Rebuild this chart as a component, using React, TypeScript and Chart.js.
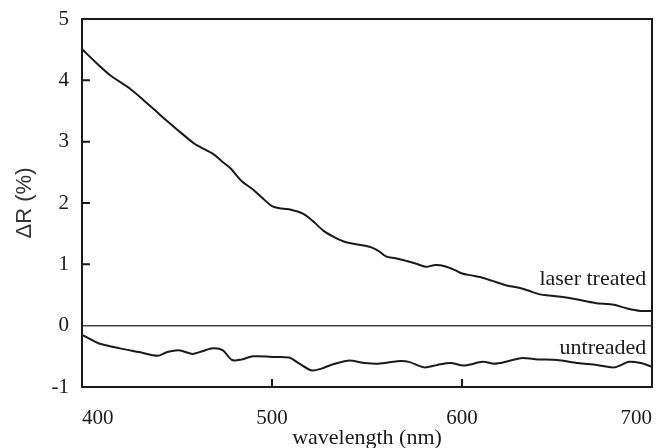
import React, { useEffect, useRef } from "react";
import { Chart, registerables } from "chart.js";

Chart.register(...registerables);

// ---- data ----
const laserWavelength = [
  400, 407, 415, 425, 433, 441, 450, 459, 463, 469, 474, 478, 484, 490, 495, 500,
  505, 510, 516, 521, 527, 533, 539, 546, 552, 556, 560, 565, 570, 576, 581, 586,
  591, 596, 600, 605, 610, 616, 623, 631, 636, 641, 646, 652, 660, 670, 680, 687,
  694, 700,
];
const laserDeltaR = [
  4.51, 4.3, 4.08, 3.87, 3.66, 3.44, 3.2, 2.97, 2.9, 2.8, 2.67, 2.57, 2.36, 2.22, 2.08, 1.95,
  1.91, 1.89, 1.83, 1.72, 1.55, 1.44, 1.36, 1.32, 1.28, 1.22, 1.13, 1.1, 1.06, 1.01, 0.96, 0.99,
  0.97, 0.91, 0.85, 0.82, 0.79, 0.73, 0.66, 0.61, 0.56, 0.51, 0.49, 0.47, 0.43, 0.37, 0.34, 0.28,
  0.24, 0.24,
];

const untreatedWavelength = [
  400, 405, 410, 420, 430, 440, 445, 451, 458, 463, 469, 474, 479, 484, 490, 500,
  509, 514, 521, 526, 531, 540, 549, 556, 566, 572, 580, 587, 594, 601, 611, 617,
  623, 631, 640, 650, 661, 671, 680, 688, 694, 700,
];
const untreatedDeltaR = [
  -0.15, -0.23, -0.3, -0.37, -0.43, -0.49, -0.43, -0.4, -0.46, -0.42, -0.37, -0.4, -0.56, -0.55, -0.5, -0.51,
  -0.52, -0.61, -0.73, -0.7, -0.64, -0.57, -0.61, -0.62, -0.58, -0.59, -0.68, -0.64, -0.61, -0.65, -0.59, -0.62,
  -0.59, -0.53, -0.55, -0.56, -0.61, -0.64, -0.68, -0.59, -0.61, -0.67,
];

const xRange = [400, 700];
const yRange = [-1, 5];
const xStep = 100;
const yStep = 1;

const seriesLabels = ["laser treated", "untreaded"];
// annotation anchors in data units: [wavelength, ΔR]
const labelAnchors = [
  [697, 0.66],
  [697, -0.46],
];
const xTitle = "wavelength (nm)";
const yTitle = "ΔR (%)";

const INK = "#1a1a1a";
const SERIF = "'Liberation Serif', 'Times New Roman', serif";
const SANS = "'Liberation Sans', Arial, sans-serif";

const framePlugin = {
  id: "frameDecor",
  beforeDatasetsDraw(chart: any) {
    const { ctx, chartArea, scales } = chart;
    const y0 = scales.y.getPixelForValue(0);
    ctx.save();
    ctx.strokeStyle = "#444";
    ctx.lineWidth = 1.5;
    ctx.beginPath();
    ctx.moveTo(chartArea.left, y0);
    ctx.lineTo(chartArea.right, y0);
    ctx.stroke();
    ctx.restore();
  },
  afterDatasetsDraw(chart: any) {
    const { ctx, chartArea, scales } = chart;
    const { left, right, top, bottom } = chartArea;
    ctx.save();
    ctx.strokeStyle = INK;
    ctx.lineWidth = 2;
    ctx.strokeRect(left, top, right - left, bottom - top);
    // inward ticks
    const len = 8;
    ctx.beginPath();
    for (const t of scales.x.ticks) {
      if (t.value <= xRange[0] || t.value >= xRange[1]) continue;
      const px = scales.x.getPixelForValue(t.value);
      ctx.moveTo(px, bottom);
      ctx.lineTo(px, bottom - len);
    }
    for (const t of scales.y.ticks) {
      if (t.value <= yRange[0] || t.value >= yRange[1] || t.value === 0) continue;
      const py = scales.y.getPixelForValue(t.value);
      ctx.moveTo(left, py);
      ctx.lineTo(left + len, py);
    }
    ctx.stroke();
    // series labels
    ctx.fillStyle = INK;
    ctx.font = `22px ${SERIF}`;
    ctx.textAlign = "right";
    ctx.textBaseline = "alphabetic";
    seriesLabels.forEach((txt, i) => {
      const [wx, wy] = labelAnchors[i];
      ctx.fillText(txt, scales.x.getPixelForValue(wx), scales.y.getPixelForValue(wy));
    });
    ctx.restore();
  },
};

export default function App() {
  const canvasRef = useRef<HTMLCanvasElement | null>(null);

  useEffect(() => {
    if (!canvasRef.current) return;
    const chart = new Chart(canvasRef.current, {
      type: "line",
      data: {
        datasets: [
          {
            label: seriesLabels[0],
            data: laserWavelength.map((x, i) => ({ x, y: laserDeltaR[i] })),
            borderColor: INK,
            borderWidth: 2,
            pointRadius: 0,
            tension: 0.3,
            fill: false,
          },
          {
            label: seriesLabels[1],
            data: untreatedWavelength.map((x, i) => ({ x, y: untreatedDeltaR[i] })),
            borderColor: INK,
            borderWidth: 2,
            pointRadius: 0,
            tension: 0.3,
            fill: false,
          },
        ],
      },
      options: {
        animation: false,
        responsive: false,
        layout: { padding: { top: 19, right: 8, bottom: 0, left: 0 } },
        plugins: {
          legend: { display: false },
          tooltip: { enabled: false },
        },
        scales: {
          x: {
            type: "linear",
            min: xRange[0],
            max: xRange[1],
            grid: { display: false },
            border: { display: false },
            ticks: {
              stepSize: xStep,
              align: "inner",
              padding: 11,
              color: INK,
              font: { family: SERIF, size: 21 },
              maxRotation: 0,
            },
            title: {
              display: true,
              text: xTitle,
              color: INK,
              font: { family: SERIF, size: 22 },
              padding: { top: 0, bottom: -3 },
            },
            afterFit: (s: any) => {
              s.height = 61;
            },
          },
          y: {
            type: "linear",
            min: yRange[0],
            max: yRange[1],
            grid: { display: false },
            border: { display: false },
            ticks: {
              stepSize: yStep,
              padding: 5,
              color: INK,
              font: { family: SERIF, size: 21 },
            },
            title: {
              display: true,
              text: yTitle,
              color: "#333",
              font: { family: SANS, size: 22 },
              padding: { top: 12, bottom: 0 },
            },
            afterFit: (s: any) => {
              s.width = 82;
            },
          },
        },
      },
      plugins: [framePlugin],
    });
    return () => chart.destroy();
  }, []);

  return (
    <div style={{ position: "absolute", left: 0, top: 0, width: 663, height: 448, background: "#fff" }}>
      <canvas ref={canvasRef} width={663} height={448} style={{ display: "block" }} />
    </div>
  );
}
